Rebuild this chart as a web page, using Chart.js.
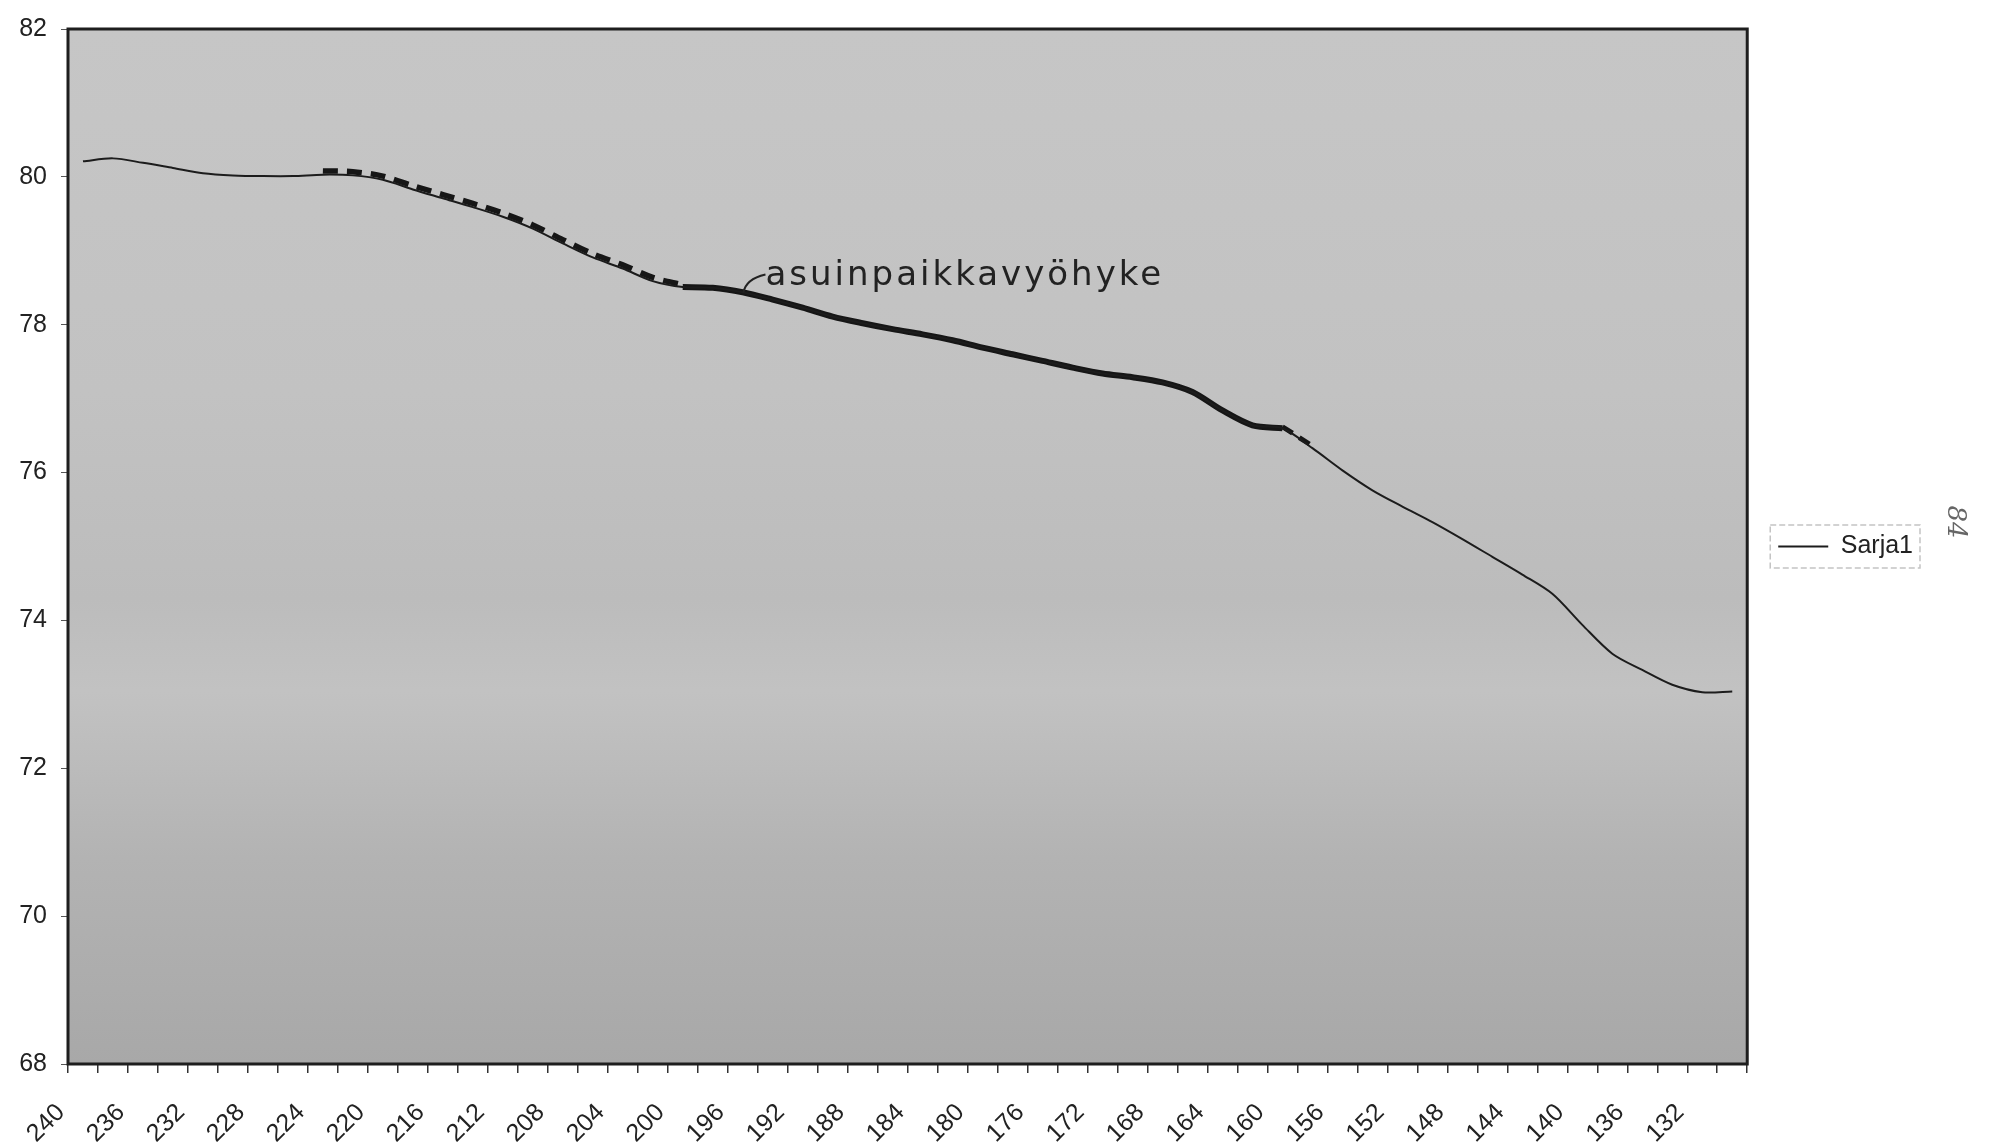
<!DOCTYPE html>
<html>
<head>
<meta charset="utf-8">
<script src="https://cdn.jsdelivr.net/npm/chart.js@4.4.1/dist/chart.umd.min.js"></script>
<style>
  body { margin: 0; background: #fff; }
  #wrap { width: 1990px; height: 1147px; }
</style>
</head>
<body>
<div id="wrap"><canvas id="profiili" width="1990" height="1147"></canvas></div>
<script>
// etäisyys (kategoriat), joka toinen näytetään akselilla
const etaisyys = [240, 238, 236, 234, 232, 230, 228, 226, 224, 222, 220, 218, 216, 214,
  212, 210, 208, 206, 204, 202, 200, 198, 196, 194, 192, 190, 188, 186, 184, 182, 180,
  178, 176, 174, 172, 170, 168, 166, 164, 162, 160, 158, 156, 154, 152, 150, 148, 146,
  144, 142, 140, 138, 136, 134, 132, 130];

// korkeus (Sarja1)
const sarja1 = [80.21, 80.25, 80.19, 80.12, 80.05, 80.02, 80.01, 80.01, 80.03, 80.02,
  79.96, 79.83, 79.71, 79.59, 79.46, 79.30, 79.10, 78.91, 78.76, 78.59,
  78.51, 78.50, 78.44, 78.34, 78.23, 78.11, 78.02, 77.94, 77.87, 77.79,
  77.69, 77.60, 77.51, 77.42, 77.34, 77.29, 77.22, 77.09, 76.84, 76.64,
  76.60, 76.33, 76.03, 75.76, 75.54, 75.33, 75.10, 74.86, 74.62, 74.36,
  73.94, 73.55, 73.33, 73.13, 73.03, 73.04];

// käsin merkitty asuinpaikkavyöhyke (katkoviiva + paksu viiva)
const n = null;
const vyohykeKatko1 = [n, n, n, n, n, n, n, n, 80.08, 80.07, 80.01, 79.88, 79.76, 79.64,
  79.51, 79.35, 79.15, 78.96, 78.81, 78.64, 78.54];
const vyohykePaksu = [n, n, n, n, n, n, n, n, n, n, n, n, n, n, n, n, n, n, n, n,
  78.51, 78.50, 78.44, 78.34, 78.23, 78.11, 78.02, 77.94, 77.87, 77.79,
  77.69, 77.60, 77.51, 77.42, 77.34, 77.29, 77.22, 77.09, 76.84, 76.64, 76.60];
const vyohykeKatko2 = [n, n, n, n, n, n, n, n, n, n, n, n, n, n, n, n, n, n, n, n,
  n, n, n, n, n, n, n, n, n, n, n, n, n, n, n, n, n, n, n, n, 76.62, 76.36];

const yTicks = [68, 70, 72, 74, 76, 78, 80, 82];
const merkinta = 'asuinpaikkavyöhyke';
const sivunumero = '84';

const tausta = {
  id: 'tausta',
  afterLayout(chart) {
    // selite keskelle piirtoaluetta
    chart.legend.top = chart.chartArea.top;
    chart.legend.bottom = chart.chartArea.bottom;
  },
  beforeDraw(chart) {
    const { ctx, chartArea: a } = chart;
    const g = ctx.createLinearGradient(0, a.top, 0, a.bottom);
    g.addColorStop(0, '#c6c6c6');
    g.addColorStop(0.35, '#c2c2c2');
    g.addColorStop(0.55, '#bcbcbc');
    g.addColorStop(0.64, '#c2c2c2');
    g.addColorStop(0.8, '#b3b3b3');
    g.addColorStop(1, '#a8a8a8');
    ctx.save();
    ctx.fillStyle = g;
    ctx.fillRect(a.left, a.top, a.right - a.left, a.bottom - a.top);
    ctx.restore();
  },
  afterDraw(chart) {
    const { ctx, chartArea: a } = chart;
    const x = chart.scales.x, y = chart.scales.y;
    ctx.save();
    // kehys
    ctx.strokeStyle = '#1e1e1e';
    ctx.lineWidth = 3;
    ctx.strokeRect(a.left, a.top, a.right - a.left, a.bottom - a.top);

    // merkintä ja viittausviiva
    const tx = x.getPixelForValue(22.76), ty = y.getPixelForValue(78.54);
    ctx.fillStyle = '#222';
    ctx.font = '34px "DejaVu Sans"';
    ctx.letterSpacing = '3px';
    ctx.textBaseline = 'alphabetic';
    ctx.fillText(merkinta, tx, ty);
    ctx.letterSpacing = '0px';
    ctx.strokeStyle = '#222';
    ctx.lineWidth = 2;
    ctx.beginPath();
    ctx.moveTo(tx, y.getPixelForValue(78.68));
    ctx.quadraticCurveTo(x.getPixelForValue(22.1), y.getPixelForValue(78.62),
      x.getPixelForValue(22.02), y.getPixelForValue(78.43));
    ctx.stroke();

    // selitteen kehys
    const hb = chart.legend.legendHitBoxes[0];
    if (hb) {
      ctx.strokeStyle = '#c4c4c4';
      ctx.lineWidth = 1.5;
      ctx.setLineDash([6, 3]);
      ctx.strokeRect(hb.left - 8, hb.top - 9, hb.width + 15, hb.height + 18);
      ctx.setLineDash([]);
    }

    // käsin kirjoitettu sivunumero
    ctx.translate(1955, 522);
    ctx.rotate(Math.PI / 2);
    ctx.fillStyle = '#666';
    ctx.font = 'italic 26px "DejaVu Serif"';
    ctx.textAlign = 'center';
    ctx.textBaseline = 'middle';
    ctx.fillText(sivunumero, 0, 0);
    ctx.restore();
  }
};

new Chart(document.getElementById('profiili'), {
  type: 'line',
  data: {
    labels: etaisyys,
    datasets: [
      { label: 'Sarja1', data: sarja1, borderColor: '#1c1c1c', borderWidth: 2,
        pointRadius: 0, tension: 0.3 },
      { label: 'k1', data: vyohykeKatko1, borderColor: '#161616', borderWidth: 5.5,
        borderDash: [15, 9], borderCapStyle: 'butt', pointRadius: 0, tension: 0.3 },
      { label: 'p', data: vyohykePaksu, borderColor: '#161616', borderWidth: 6,
        pointRadius: 0, tension: 0.3 },
      { label: 'k2', data: vyohykeKatko2, borderColor: '#161616', borderWidth: 5,
        borderDash: [12, 8], pointRadius: 0, tension: 0 }
    ]
  },
  options: {
    responsive: false,
    animation: false,
    layout: { padding: { left: 14, right: 67, top: 23, bottom: 0 } },
    plugins: {
      tooltip: { enabled: false },
      legend: {
        position: 'right',
        labels: {
          filter: item => item.datasetIndex === 0,
          usePointStyle: true,
          pointStyle: 'line',
          pointStyleWidth: 50,
          padding: 31,
          color: '#222',
          font: { family: '"Liberation Sans", Arial, sans-serif', size: 25 }
        }
      }
    },
    scales: {
      x: {
        offset: true,
        grid: { offset: true, drawOnChartArea: false, drawTicks: true, tickLength: 9,
          color: '#333', lineWidth: 1.5 },
        border: { display: false },
        ticks: {
          autoSkip: false, minRotation: 45, maxRotation: 45, labelOffset: -22, padding: 25,
          color: '#222',
          font: { family: '"Liberation Sans", Arial, sans-serif', size: 25 },
          callback: (v, i) => (i % 2 === 0 ? etaisyys[i] : '')
        },
        afterFit(s) { s.height = 83; }
      },
      y: {
        min: 68, max: 82,
        afterBuildTicks(s) { s.ticks = yTicks.map(v => ({ value: v })); },
        grid: { drawOnChartArea: false, drawTicks: true, tickLength: 7, color: '#555' },
        border: { display: false },
        ticks: {
          padding: 14, color: '#222',
          font: { family: '"Liberation Sans", Arial, sans-serif', size: 25 }
        },
        afterFit(s) { s.width = 54; }
      }
    }
  },
  plugins: [tausta]
});
</script>
</body>
</html>
